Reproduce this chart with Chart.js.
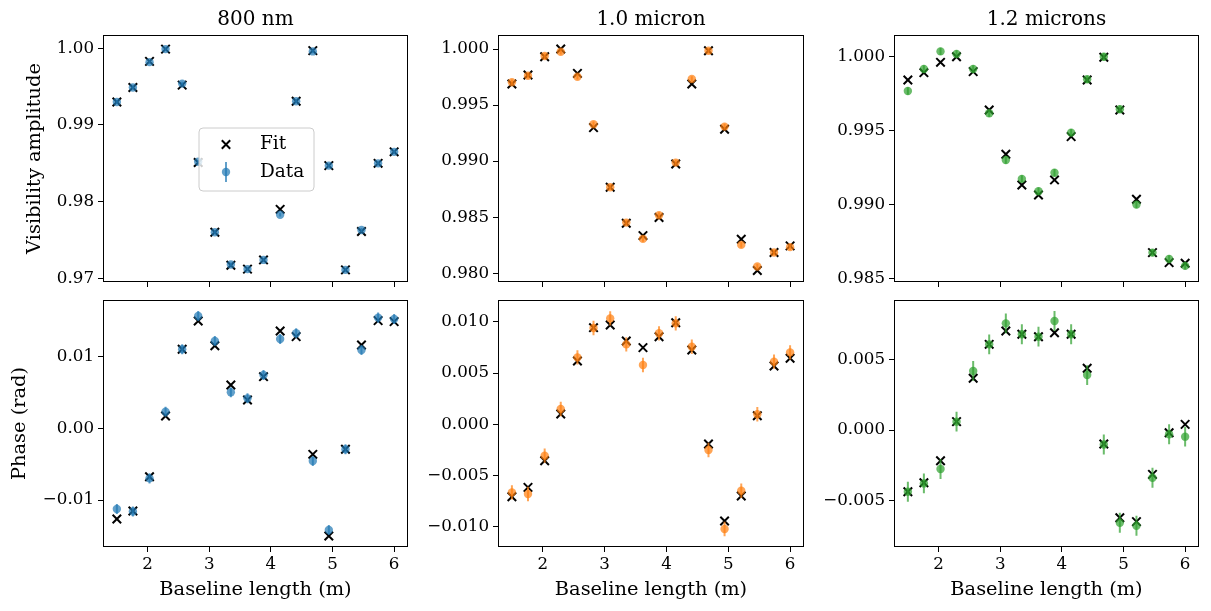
<!DOCTYPE html>
<html><head><meta charset="utf-8">
<script src="https://cdn.jsdelivr.net/npm/chart.js@4/dist/chart.umd.min.js"></script>
<style>
html,body{margin:0;padding:0;background:#fff;width:1211px;height:611px;overflow:hidden;position:relative}
canvas{position:absolute}
</style></head><body>
<canvas id="c0"></canvas><canvas id="c1"></canvas><canvas id="c2"></canvas>
<canvas id="c3"></canvas><canvas id="c4"></canvas><canvas id="c5"></canvas>
<script>
// ---------- data ----------
const baselines = [1.50, 1.76, 2.03, 2.29, 2.56, 2.82, 3.09, 3.35, 3.62, 3.88, 4.15, 4.41, 4.68, 4.94, 5.21, 5.47, 5.74, 6.00];

const vis800Fit  = [0.9930, 0.9949, 0.9983, 0.9999, 0.9952, 0.9851, 0.9760, 0.9717, 0.9712, 0.9724, 0.9790, 0.9931, 0.9997, 0.9847, 0.9711, 0.9761, 0.9850, 0.9865];
const vis800Data = [0.9930, 0.9949, 0.9982, 0.9999, 0.9954, 0.9852, 0.9760, 0.9718, 0.9712, 0.9724, 0.9783, 0.9931, 0.9996, 0.9847, 0.9711, 0.9763, 0.9850, 0.9865];
const vis1000Fit  = [0.99688, 0.99768, 0.99931, 1.00000, 0.99783, 0.99299, 0.98767, 0.98446, 0.98336, 0.98497, 0.98975, 0.99688, 0.99985, 0.99284, 0.98304, 0.98024, 0.98185, 0.98244];
const vis1000Data = [0.99703, 0.99762, 0.99938, 0.99976, 0.99753, 0.99329, 0.98767, 0.98452, 0.98307, 0.98518, 0.98987, 0.99733, 0.99985, 0.99308, 0.98253, 0.98060, 0.98185, 0.98233];
const vis1200Fit  = [0.99842, 0.99892, 0.99962, 1.00000, 0.99899, 0.99639, 0.99340, 0.99132, 0.99064, 0.99166, 0.99459, 0.99842, 0.99996, 0.99639, 0.99035, 0.98674, 0.98606, 0.98602];
const vis1200Data = [0.99768, 0.99917, 1.00036, 1.00018, 0.99917, 0.99617, 0.99301, 0.99173, 0.99089, 0.99215, 0.99486, 0.99847, 1.00000, 0.99644, 0.98999, 0.98674, 0.98631, 0.98584];

const phase800Fit  = [-0.01265, -0.01153, -0.00675, 0.00172, 0.01102, 0.01497, 0.01152, 0.00604, 0.00395, 0.00720, 0.01357, 0.01278, -0.00363, -0.01502, -0.00293, 0.01162, 0.01501, 0.01487];
const phase800Data = [-0.01126, -0.01160, -0.00698, 0.00232, 0.01102, 0.01566, 0.01218, 0.00502, 0.00418, 0.00743, 0.01245, 0.01325, -0.00456, -0.01418, -0.00293, 0.01092, 0.01543, 0.01524];
const phase1000Fit  = [-0.00706, -0.00615, -0.00355, 0.00101, 0.00618, 0.00943, 0.00969, 0.00813, 0.00748, 0.00855, 0.00991, 0.00725, -0.00192, -0.00943, -0.00700, 0.00084, 0.00569, 0.00644];
const phase1000Data = [-0.00664, -0.00680, -0.00306, 0.00149, 0.00653, 0.00940, 0.01034, 0.00780, 0.00579, 0.00888, 0.00985, 0.00757, -0.00251, -0.01021, -0.00648, 0.00098, 0.00611, 0.00702];
const phase1200Fit  = [-0.00436, -0.00372, -0.00217, 0.00059, 0.00365, 0.00605, 0.00699, 0.00676, 0.00659, 0.00687, 0.00676, 0.00436, -0.00099, -0.00619, -0.00647, -0.00313, -0.00019, 0.00040];
const phase1200Data = [-0.00436, -0.00377, -0.00275, 0.00059, 0.00417, 0.00605, 0.00753, 0.00676, 0.00659, 0.00770, 0.00676, 0.00388, -0.00102, -0.00655, -0.00676, -0.00337, -0.00030, -0.00047];

// error bar half-lengths
const visErr   = [0.00025, 0.00025, 0.00025];
const phaseErr = [0.0007, 0.0007, 0.0007];

// ---------- axes / ticks ----------
const xTicks = [2, 3, 4, 5, 6];
const xRange = [1.275, 6.225];
const visTicks800  = [0.97, 0.98, 0.99, 1.00];
const visTicks1000 = [0.980, 0.985, 0.990, 0.995, 1.000];
const visTicks1200 = [0.985, 0.990, 0.995, 1.000];
const phaseTicks800  = [-0.01, 0.00, 0.01];
const phaseTicks1000 = [-0.010, -0.005, 0.000, 0.005, 0.010];
const phaseTicks1200 = [-0.005, 0.000, 0.005];
const visRanges   = [[0.96952, 1.00174], [0.97922, 1.00125], [0.98475, 1.00147]];
const phaseRanges = [[-0.01655, 0.01789], [-0.01197, 0.01213], [-0.00826, 0.00918]];
const titles = ['800 nm', '1.0 micron', '1.2 microns'];
const colors = ['rgba(31,119,180,0.7)', 'rgba(255,127,14,0.7)', 'rgba(44,160,44,0.7)'];

// ---------- layout (pixels) ----------
const cols = [{left: 0, yW: 103, width: 416}, {left: 420, yW: 78, width: 392}, {left: 815, yW: 79, width: 392}];
const rows = [{top: 0, height: 300, padTop: 0, xH: 18}, {top: 285, height: 326, padTop: 15, xH: 64}];
const TICK_FONT = 16.7, LABEL_FONT = 19.4, TITLE_FONT = 20, LEGEND_FONT = 18.5;

Chart.defaults.font.family = "'DejaVu Serif', serif";
Chart.defaults.font.size = TICK_FONT;
Chart.defaults.color = '#000';

function fmt(dec) {
  return v => {
    const s = (Math.abs(v) < 1e-12 ? 0 : v).toFixed(dec);
    return s.replace('-', '\u2212');
  };
}
function errSegments(xs, ys, err) {
  const out = [];
  xs.forEach((x, i) => { out.push({x, y: ys[i] - err}, {x, y: ys[i] + err}, {x, y: null}); });
  return out;
}
function pts(xs, ys) { return xs.map((x, i) => ({x, y: ys[i]})); }

const framePlugin = {
  id: 'frame',
  afterDatasetsDraw(chart) {
    const {ctx, chartArea: a} = chart;
    ctx.save();
    ctx.strokeStyle = '#000';
    ctx.lineWidth = 1;
    ctx.strokeRect(a.left + 0.5, a.top + 0.5, a.right - a.left - 1, a.bottom - a.top - 1);
    ctx.restore();
  }
};

const legendPlugin = {
  id: 'boxLegend',
  afterDraw(chart, args, opts) {
    if (!opts || !opts.show) return;
    const {ctx, chartArea: a} = chart;
    const fit = chart.data.datasets.find(d => d.role === 'fit');
    const dat = chart.data.datasets.find(d => d.role === 'data');
    const x = a.left + 96, y = a.top + 93, w = 115, h = 63, r = 4;
    ctx.save();
    ctx.beginPath();
    ctx.moveTo(x + r, y); ctx.lineTo(x + w - r, y); ctx.arcTo(x + w, y, x + w, y + r, r);
    ctx.lineTo(x + w, y + h - r); ctx.arcTo(x + w, y + h, x + w - r, y + h, r);
    ctx.lineTo(x + r, y + h); ctx.arcTo(x, y + h, x, y + h - r, r);
    ctx.lineTo(x, y + r); ctx.arcTo(x, y, x + r, y, r); ctx.closePath();
    ctx.fillStyle = 'rgba(255,255,255,0.8)'; ctx.fill();
    ctx.strokeStyle = '#cccccc'; ctx.lineWidth = 1; ctx.stroke();
    const mx = x + 27, fy = y + 16.5, dy = y + 44;
    ctx.strokeStyle = '#000'; ctx.lineWidth = 2;
    const d = 4.2;
    ctx.beginPath(); ctx.moveTo(mx - d, fy - d); ctx.lineTo(mx + d, fy + d);
    ctx.moveTo(mx - d, fy + d); ctx.lineTo(mx + d, fy - d); ctx.stroke();
    ctx.strokeStyle = dat.backgroundColor; ctx.lineWidth = 2;
    ctx.beginPath(); ctx.moveTo(mx, dy - 10); ctx.lineTo(mx, dy + 10); ctx.stroke();
    ctx.fillStyle = dat.backgroundColor;
    ctx.beginPath(); ctx.arc(mx, dy, 4.2, 0, Math.PI * 2); ctx.fill();
    ctx.fillStyle = '#000';
    ctx.font = LEGEND_FONT + "px 'DejaVu Serif', serif";
    ctx.textBaseline = 'middle'; ctx.textAlign = 'left';
    ctx.fillText(fit.label, x + 61, fy);
    ctx.fillText(dat.label, x + 61, dy);
    ctx.restore();
  }
};

const panels = [
  {row: 0, col: 0, fit: vis800Fit, data: vis800Data, err: visErr[0], ticks: visTicks800, dec: 2, range: visRanges[0], ytitle: 'Visibility amplitude', ytitlePad: 23, legend: true},
  {row: 0, col: 1, fit: vis1000Fit, data: vis1000Data, err: visErr[1], ticks: visTicks1000, dec: 3, range: visRanges[1]},
  {row: 0, col: 2, fit: vis1200Fit, data: vis1200Data, err: visErr[2], ticks: visTicks1200, dec: 3, range: visRanges[2]},
  {row: 1, col: 0, fit: phase800Fit, data: phase800Data, err: phaseErr[0], ticks: phaseTicks800, dec: 2, range: phaseRanges[0], ytitle: 'Phase (rad)', ytitlePad: 8.5},
  {row: 1, col: 1, fit: phase1000Fit, data: phase1000Data, err: phaseErr[1], ticks: phaseTicks1000, dec: 3, range: phaseRanges[1]},
  {row: 1, col: 2, fit: phase1200Fit, data: phase1200Data, err: phaseErr[2], ticks: phaseTicks1200, dec: 3, range: phaseRanges[2]}
];

panels.forEach((p, i) => {
  const c = cols[p.col], r = rows[p.row];
  const cv = document.getElementById('c' + i);
  cv.width = c.width; cv.height = r.height;
  cv.style.left = c.left + 'px'; cv.style.top = r.top + 'px';
  const color = colors[p.col];
  new Chart(cv, {
    type: 'scatter',
    data: {
      datasets: [
        {label: 'Data', role: 'data', data: pts(baselines, p.data), pointStyle: 'circle', pointRadius: 4.2,
         backgroundColor: color, borderWidth: 0, order: 1},
        {label: 'err', role: 'err', data: errSegments(baselines, p.data, p.err), showLine: true, spanGaps: false,
         borderColor: color, borderWidth: 2, pointRadius: 0, order: 2},
        {label: 'Fit', role: 'fit', data: pts(baselines, p.fit), pointStyle: 'crossRot', pointRadius: 6,
         borderColor: '#000', backgroundColor: '#000', borderWidth: 2, order: 3}
      ]
    },
    options: {
      responsive: false, animation: false, devicePixelRatio: 1, events: [],
      layout: {padding: {top: r.padTop, right: 6, left: 0, bottom: 0}},
      plugins: {
        legend: {display: false}, tooltip: {enabled: false},
        title: {display: p.row === 0, text: titles[p.col], fullSize: false, color: '#000',
                font: {size: TITLE_FONT, weight: 'normal'}, padding: {top: 8, bottom: 3}},
        boxLegend: {show: !!p.legend}
      },
      scales: {
        x: {
          type: 'linear', min: xRange[0], max: xRange[1],
          afterBuildTicks: s => { s.ticks = xTicks.map(v => ({value: v})); },
          afterFit: s => { s.height = r.xH; },
          ticks: {display: p.row === 1, padding: 3, color: '#000', font: {size: TICK_FONT}},
          grid: {drawOnChartArea: false, drawTicks: true, tickLength: 5, tickColor: '#000', tickWidth: 1},
          border: {display: false},
          title: {display: p.row === 1, text: 'Baseline length (m)', color: '#000', font: {size: LABEL_FONT}, padding: {top: 0, bottom: 9.5}}
        },
        y: {
          type: 'linear', min: p.range[0], max: p.range[1],
          afterBuildTicks: s => { s.ticks = p.ticks.map(v => ({value: v})); },
          afterFit: s => { s.width = c.yW; },
          ticks: {padding: 4, color: '#000', font: {size: TICK_FONT}, callback: fmt(p.dec), autoSkip: false},
          grid: {drawOnChartArea: false, drawTicks: true, tickLength: 5, tickColor: '#000', tickWidth: 1},
          border: {display: false},
          title: {display: !!p.ytitle, text: p.ytitle || '', color: '#000', font: {size: LABEL_FONT}, padding: {top: p.ytitlePad || 0, bottom: 0}}
        }
      }
    },
    plugins: [framePlugin, legendPlugin]
  });
});
</script>
</body></html>
